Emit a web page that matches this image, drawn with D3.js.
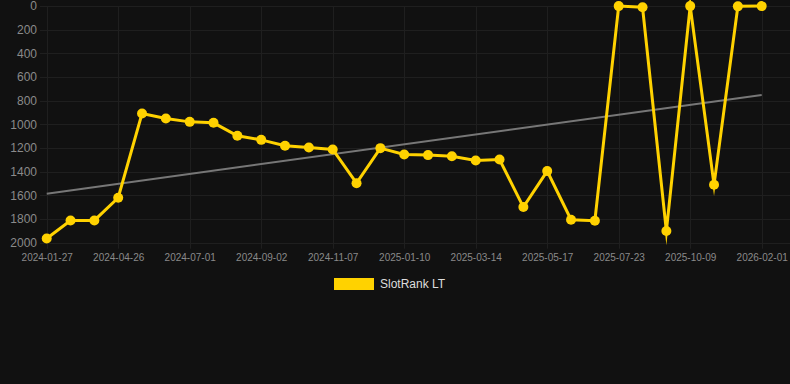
<!DOCTYPE html>
<html>
<head>
<meta charset="utf-8">
<script src="https://cdn.jsdelivr.net/npm/d3@7"></script>
<style>
  html, body { margin: 0; padding: 0; background: #111111; }
  svg { display: block; font-family: Arial, "Liberation Sans", sans-serif; }
</style>
</head>
<body>
<script>
const width = 790;
const height = 384;

// rank per observation (lower is better), one point every few weeks
const rankValues = [1965, 1812, 1812, 1620, 909, 951, 979, 987, 1097, 1131,
  1181, 1196, 1212, 1497, 1201, 1255, 1260, 1269, 1305, 1297,
  1699, 1395, 1806, 1814, 1, 11, 1901, 1, 1510, 3, 1];
// x tick labels, every third observation
const tickLabels = ['2024-01-27', '2024-04-26', '2024-07-01', '2024-09-02', '2024-11-07',
  '2025-01-10', '2025-03-14', '2025-05-17', '2025-07-23', '2025-10-09', '2026-02-01'];
const yTicks = [0, 200, 400, 600, 800, 1000, 1200, 1400, 1600, 1800, 2000];
// trend line, first and last observation
const trendValues = [1586, 752];
const seriesName = 'SlotRank LT';

const yellow = '#ffd200';

const svg = d3.select('body').append('svg')
  .attr('width', width)
  .attr('height', height);

const x = d3.scalePoint()
  .domain(d3.range(rankValues.length))
  .range([46.7, 761.7]);

const y = d3.scaleLinear()
  .domain([0, 2000])
  .range([6, 242.7]);

// grid
const grid = svg.append('g').attr('stroke', '#1f1f1f').attr('stroke-width', 1);
yTicks.forEach((t) => {
  grid.append('line')
    .attr('x1', 40).attr('x2', width)
    .attr('y1', Math.round(y(t)) + 0.5).attr('y2', Math.round(y(t)) + 0.5);
});
tickLabels.forEach((_, i) => {
  const xi = Math.round(x(i * 3)) + 0.5;
  grid.append('line')
    .attr('x1', xi).attr('x2', xi)
    .attr('y1', y(0)).attr('y2', y(2000) + 6);
});

// y axis labels
const yAxis = svg.append('g')
  .attr('transform', 'translate(42,0)')
  .call(d3.axisLeft(y).tickValues(yTicks).tickFormat(d3.format('d'))
    .tickSize(0).tickPadding(5));
yAxis.select('.domain').remove();
yAxis.selectAll('text').attr('fill', '#8a8a8a').style('font-size', '12px')
  .style('font-family', 'Arial, "Liberation Sans", sans-serif');

// x axis labels
const xAxis = svg.append('g')
  .attr('transform', 'translate(0,249)')
  .call(d3.axisBottom(x)
    .tickValues(tickLabels.map((_, i) => i * 3))
    .tickFormat((d) => tickLabels[d / 3])
    .tickSize(0).tickPadding(5));
xAxis.select('.domain').remove();
xAxis.selectAll('text').attr('fill', '#8a8a8a').style('font-size', '10px')
  .style('font-family', 'Arial, "Liberation Sans", sans-serif');

// trend line
svg.append('line')
  .attr('x1', x(0)).attr('y1', y(trendValues[0]))
  .attr('x2', x(rankValues.length - 1)).attr('y2', y(trendValues[1]))
  .attr('stroke', '#777777')
  .attr('stroke-width', 2);

// series
const line = d3.line()
  .x((d, i) => x(i))
  .y((d) => y(d));

svg.append('path')
  .datum(rankValues)
  .attr('d', line)
  .attr('fill', 'none')
  .attr('stroke', yellow)
  .attr('stroke-width', 3)
  .attr('stroke-linejoin', 'miter')
  .attr('stroke-miterlimit', 10);

svg.append('g').selectAll('circle')
  .data(rankValues)
  .join('circle')
  .attr('cx', (d, i) => x(i))
  .attr('cy', (d) => y(d))
  .attr('r', 5)
  .attr('fill', yellow);

// legend
svg.append('rect')
  .attr('x', 334).attr('y', 278)
  .attr('width', 40).attr('height', 12)
  .attr('fill', yellow);
svg.append('text')
  .attr('x', 380).attr('y', 284)
  .attr('dy', '0.35em')
  .attr('fill', '#dddddd')
  .style('font-size', '12px')
  .text(seriesName);
</script>
</body>
</html>
